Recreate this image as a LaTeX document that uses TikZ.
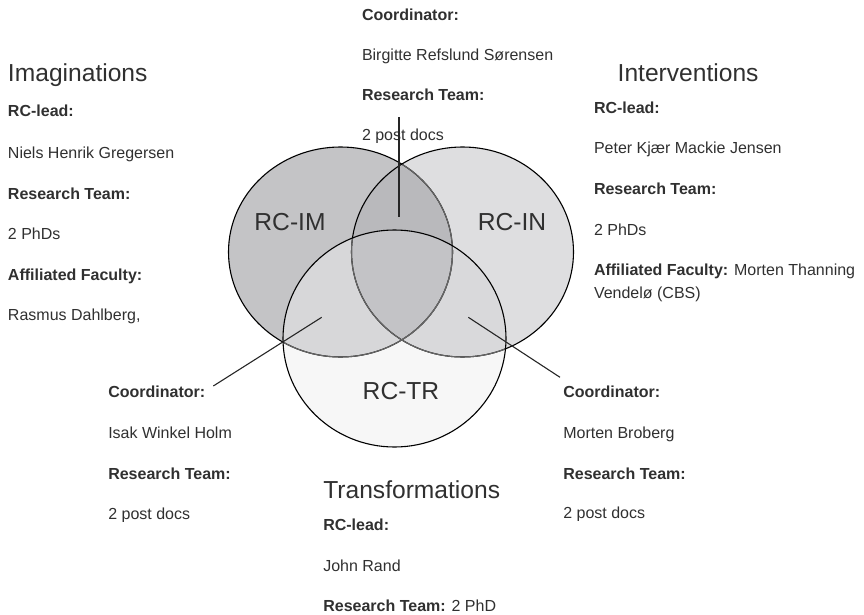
\documentclass[tikz,border=0pt]{standalone}
\usepackage{fontspec}
\setmainfont{Liberation Sans}
\definecolor{cIM}{HTML}{C4C4C6}
\definecolor{cIN}{HTML}{DEDEE0}
\definecolor{cTR}{HTML}{F7F7F7}
\definecolor{cIMIN}{HTML}{B9B9BC}
\definecolor{cIMTR}{HTML}{D7D7D9}
\definecolor{cINTR}{HTML}{D9D9DB}
\definecolor{cALL}{HTML}{C3C3C6}
\definecolor{txtc}{HTML}{303030}
\definecolor{arcgray}{HTML}{666666}
\begin{document}
\begin{tikzpicture}[x=1pt,y=-1pt,
  every node/.style={inner sep=0pt,outer sep=0pt,anchor=base west,text=txtc},
  lbl/.style={font=\fontsize{16}{19}\selectfont\bfseries},
  txt/.style={font=\fontsize{16}{19}\selectfont},
  head/.style={font=\fontsize{24.6}{28}\selectfont},
  rclabel/.style={font=\fontsize{24.6}{28}\selectfont,anchor=base},
  outline/.style={line width=1.1pt},
  connector/.style={line width=1.1pt,draw=black!85}]
\useasboundingbox (0,0) rectangle (864,615);
\def\IMpath{(340.5,252) ellipse [x radius=112, y radius=105]}
\def\INpath{(462.5,252) ellipse [x radius=111, y radius=105]}
\def\TRpath{(394.5,338.5) ellipse [x radius=111.5, y radius=108.5]}
% fills
\fill[cIM] \IMpath;
\fill[cIN] \INpath;
\begin{scope}\clip \IMpath; \fill[cIMIN] \INpath;\end{scope}
\fill[cTR] \TRpath;
\begin{scope}
  \clip \TRpath;
  \fill[cIMTR] \IMpath;
  \fill[cINTR] \INpath;
  \begin{scope}\clip \IMpath; \fill[cALL] \INpath;\end{scope}
\end{scope}
% outlines
\draw[outline] \IMpath;
\begin{scope}\clip \INpath; \draw[outline,arcgray] \IMpath;\end{scope}
\draw[outline] \INpath;
\begin{scope}\clip \TRpath; \draw[outline,arcgray] \IMpath; \draw[outline,arcgray] \INpath;\end{scope}
\draw[outline] \TRpath;
% circle labels
\node[rclabel] (rcim) at (290,230) {RC-IM};
\node[rclabel] (rcin) at (512,230) {RC-IN};
\node[rclabel] (rctr) at (401,399.5) {RC-TR};
% top block
\node[lbl] (tcoord) at (362,20.7) {Coordinator:};
\node[txt] (tname) at (362,60.7) {Birgitte Refslund Sørensen};
\node[lbl] (tteam) at (362,100.7) {Research Team:};
\begin{scope}
  \clip (358,120) rectangle (470,142.7);
  \node[txt] (tpd) at (362,140.7) {2 post docs};
\end{scope}
% Imaginations
\node[head] (imh) at (8,82) {Imaginations};
\node[lbl] (iml) at (8,117) {RC-lead:};
\node[txt] (imn) at (8,158) {Niels Henrik Gregersen};
\node[lbl] (imt) at (8,199) {Research Team:};
\node[txt] (imp) at (8,239.5) {2 PhDs};
\node[lbl] (ima) at (8,280) {Affiliated Faculty:};
\node[txt] (imr) at (8,320.5) {Rasmus Dahlberg,};
% Interventions
\node[head] (inh) at (617.7,81.7) {Interventions};
\node[lbl] (inl) at (594,113.3) {RC-lead:};
\node[txt] (inn) at (594,153.8) {Peter Kjær Mackie Jensen};
\node[lbl] (int) at (594,194) {Research Team:};
\node[txt] (inp) at (594,235) {2 PhDs};
\node[txt] (ina) at (594,275) {\textbf{Affiliated Faculty:} Morten Thanning};
\node[txt] (inv) at (594,298.3) {Vendelø (CBS)};
% bottom left
\node[lbl] (blc) at (108.3,397.3) {Coordinator:};
\node[txt] (bln) at (108.3,438.3) {Isak Winkel Holm};
\node[lbl] (blt) at (108.3,479.3) {Research Team:};
\begin{scope}
  \clip (104,500) rectangle (220,521.5);
  \node[txt] (blp) at (108.3,519.5) {2 post docs};
\end{scope}
% Transformations
\node[head] (trh) at (323.3,498.3) {Transformations};
\node[lbl] (trl) at (323.3,530.7) {RC-lead:};
\node[txt] (trn) at (323.3,571.7) {John Rand};
\node[txt] (trt) at (323.3,611.7) {\textbf{Research Team:} 2 PhD};
% bottom right
\node[lbl] (brc) at (563.3,397.3) {Coordinator:};
\node[txt] (brn) at (563.3,438.3) {Morten Broberg};
\node[lbl] (brt) at (563.3,479.3) {Research Team:};
\begin{scope}
  \clip (559,498) rectangle (675,520);
  \node[txt] (brp) at (563.3,518) {2 post docs};
\end{scope}
% connectors
\coordinate (topin) at (399,216.7);
\coordinate (topout) at (399,116.7);
\coordinate (leftin) at (321.7,317.3);
\coordinate (leftout) at (213.3,386);
\coordinate (rightin) at (468.3,317.3);
\coordinate (rightout) at (560,377.3);
\draw[connector] (topin) -- (topout);
\draw[connector] (leftin) -- (leftout);
\draw[connector] (rightin) -- (rightout);
\end{tikzpicture}
\end{document}
